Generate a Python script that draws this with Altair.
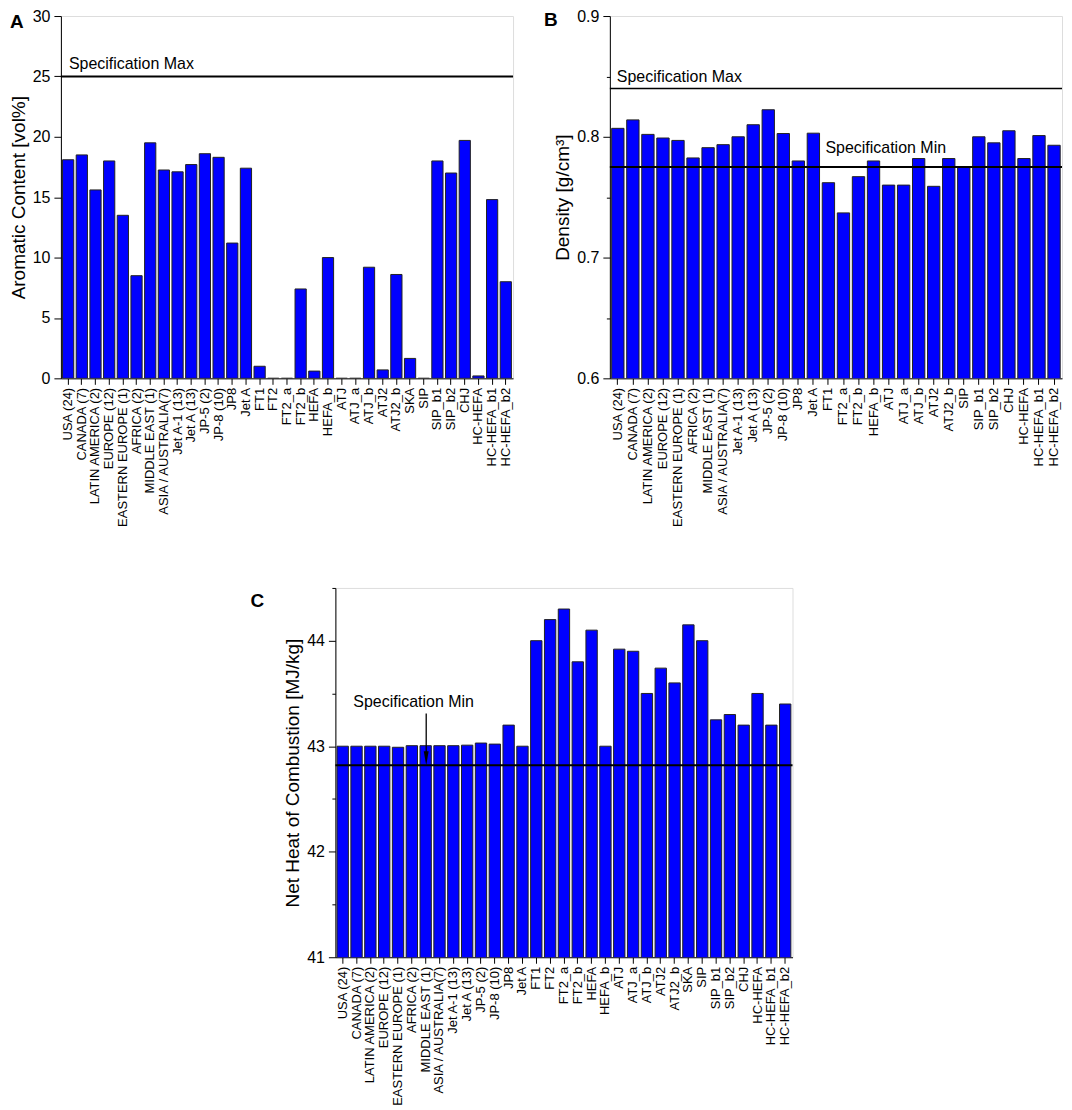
import altair as alt
import pandas as pd

# ---------------- data ----------------
cats_a = ["USA (24)", "CANADA (7)", "LATIN AMERICA (2)", "EUROPE (12)", "EASTERN EUROPE (1)",
          "AFRICA (2)", "MIDDLE EAST (1)", "ASIA / AUSTRALIA(7)", "Jet A-1 (13)", "Jet A (13)",
          "JP-5 (2)", "JP-8 (10)", "JP8", "Jet A", "FT1", "FT2", "FT2_a", "FT2_b", "HEFA", "HEFA_b",
          "ATJ", "ATJ_a", "ATJ_b", "ATJ2", "ATJ2_b", "SKA", "SIP", "SIP_b1", "SIP_b2", "CHJ",
          "HC-HEFA", "HC-HEFA_b1", "HC-HEFA_b2"]
vals_a = [18.1, 18.5, 15.6, 18.0, 13.5, 8.5, 19.5, 17.25, 17.1, 17.7, 18.6, 18.3, 11.2, 17.4,
          1.0, 0.0, 0.0, 7.4, 0.6, 10.0, 0.0, 0.0, 9.2, 0.7, 8.6, 1.65, 0.0, 18.0, 17.0, 19.7,
          0.2, 14.8, 8.0]

cats_b = ["USA (24)", "CANADA (7)", "LATIN AMERICA (2)", "EUROPE (12)", "EASTERN EUROPE (1)",
          "AFRICA (2)", "MIDDLE EAST (1)", "ASIA / AUSTRALIA(7)", "Jet A-1 (13)", "Jet A (13)",
          "JP-5 (2)", "JP-8 (10)", "JP8", "Jet A", "FT1", "FT2_a", "FT2_b", "HEFA_b", "ATJ",
          "ATJ_a", "ATJ_b", "ATJ2", "ATJ2_b", "SIP", "SIP_b1", "SIP_b2", "CHJ", "HC-HEFA",
          "HC-HEFA_b1", "HC-HEFA_b2"]
vals_b = [0.807, 0.814, 0.802, 0.799, 0.797, 0.7825, 0.791, 0.7935, 0.800, 0.810, 0.8224, 0.8027,
          0.780, 0.803, 0.762, 0.737, 0.767, 0.780, 0.760, 0.760, 0.782, 0.759, 0.782, 0.775,
          0.800, 0.795, 0.805, 0.782, 0.801, 0.793]

cats_c = ["USA (24)", "CANADA (7)", "LATIN AMERICA (2)", "EUROPE (12)", "EASTERN EUROPE (1)",
          "AFRICA (2)", "MIDDLE EAST (1)", "ASIA / AUSTRALIA(7)", "Jet A-1 (13)", "Jet A (13)",
          "JP-5 (2)", "JP-8 (10)", "JP8", "Jet A", "FT1", "FT2", "FT2_a", "FT2_b", "HEFA", "HEFA_b",
          "ATJ", "ATJ_a", "ATJ_b", "ATJ2", "ATJ2_b", "SKA", "SIP", "SIP_b1", "SIP_b2", "CHJ",
          "HC-HEFA", "HC-HEFA_b1", "HC-HEFA_b2"]
vals_c = [43.0, 43.0, 43.0, 43.0, 42.99, 43.005, 43.005, 43.005, 43.005, 43.01, 43.03, 43.02,
          43.2, 43.0, 44.0, 44.2, 44.3, 43.8, 44.1, 43.0, 43.92, 43.9, 43.5, 43.74, 43.6, 44.15,
          44.0, 43.25, 43.3, 43.2, 43.5, 43.2, 43.4]

ticks_a = [0, 2.5, 5, 7.5, 10, 12.5, 15, 17.5, 20, 22.5, 25, 27.5, 30]
ticks_b = [0.6, 0.65, 0.7, 0.75, 0.8, 0.85, 0.9]
ticks_c = [41, 41.5, 42, 42.5, 43, 43.5, 44, 44.5]

spec_a_max = 25
spec_b_max = 0.84
spec_b_min = 0.775
spec_c_min = 42.82
arrow_c_top = 43.31

FONT = "Liberation Sans"
BLUE = "#0000FF"
W = 453
H = 363


def bars(cats, vals, domain, ticks, major_test, fmt, ytitle, width, height):
    df = pd.DataFrame({"name": cats, "value": vals})
    return alt.Chart(df).mark_bar(color=BLUE, stroke="#222222", strokeWidth=1, clip=True).encode(
        x=alt.X("name:N", sort=cats,
                scale=alt.Scale(paddingInner=0.18, paddingOuter=0.12),
                axis=alt.Axis(title=None, labelAngle=-90, labelFontSize=13, tickSize=6,
                              labelPadding=3, labelLimit=300, domainColor="black",
                              tickColor="black", labelColor="black", labelFont=FONT)),
        y=alt.Y("value:Q", scale=alt.Scale(domain=domain, nice=False, zero=False),
                axis=alt.Axis(values=ticks, title=ytitle, grid=False,
                              tickSize={"condition": {"test": major_test, "value": 7}, "value": 3.5},
                              labelExpr=f"({major_test}) ? format(datum.value, '{fmt}') : ''",
                              labelFontSize=16, labelPadding=4, labelOverlap=False,
                              titleFontSize=19, titleFontWeight="normal", titlePadding=4,
                              titleColor="black", labelColor="black", domainColor="black",
                              tickColor="black", labelFont=FONT, titleFont=FONT)),
    ).properties(width=width, height=height)


def rule(v, w=2):
    return alt.Chart(pd.DataFrame({"v": [v]})).mark_rule(color="black", strokeWidth=w).encode(
        y=alt.Y("v:Q"))


def label(text, v, px, dy, size=16):
    return alt.Chart(pd.DataFrame({"t": [text], "v": [v]})).mark_text(
        align="left", baseline="alphabetic", dy=dy, fontSize=size, font=FONT,
        color="black").encode(x=alt.value(px), y=alt.Y("v:Q"), text="t:N")


def letter(text, px, py):
    return alt.Chart(pd.DataFrame({"t": [text]})).mark_text(
        align="left", baseline="top", fontSize=19, font=FONT, fontWeight="bold",
        color="black").encode(x=alt.value(px), y=alt.value(py), text="t:N")


# Panel A
pa = alt.layer(
    bars(cats_a, vals_a, [0, 30], ticks_a, "datum.value % 5 === 0", "d",
         "Aromatic Content [vol%]", W, H),
    rule(spec_a_max),
    label("Specification Max", spec_a_max, 8, -7),
    letter("A", -51, -3),
)

# Panel B
pb = alt.layer(
    bars(cats_b, vals_b, [0.6, 0.9], ticks_b,
         "abs(datum.value * 10 - round(datum.value * 10)) < 0.000001", ".1f",
         "Density [g/cm³]", W, H),
    rule(spec_b_max, 1.5),
    rule(spec_b_min, 2),
    label("Specification Max", spec_b_max, 7, -7),
    label("Specification Min", spec_b_min, 216, -14),
    letter("B", -66, -5),
)

# Panel C
arrow_df = pd.DataFrame({"top": [arrow_c_top], "bottom": [spec_c_min + 0.1],
                         "head": [spec_c_min + 0.065]})
arrow = alt.Chart(arrow_df).mark_rule(color="black", strokeWidth=1.3).encode(
    x=alt.value(91), y=alt.Y("top:Q"), y2="bottom:Q")
head = alt.Chart(arrow_df).mark_point(
    shape="M -0.35 -1 L 0.35 -1 L 0 1 Z", filled=True, color="black", size=196,
    opacity=1).encode(x=alt.value(91), y=alt.Y("head:Q"))

pc = alt.layer(
    bars(cats_c, vals_c, [41, 44.5], ticks_c, "datum.value % 1 === 0", "d",
         "Net Heat of Combustion [MJ/kg]", 458, 370),
    rule(spec_c_min),
    arrow, head,
    label("Specification Min", arrow_c_top, 18, -7),
    letter("C", -85, 4),
)

spacer = alt.Chart(pd.DataFrame({"s": [0]})).mark_point(opacity=0).properties(
    width=188, height=H, view=alt.ViewBackground(stroke="transparent"))

top = alt.hconcat(pa, pb, spacing=28)
bottom = alt.hconcat(spacer, pc, spacing=0)
chart = alt.vconcat(top, bottom, spacing=52).properties(
    padding={"left": 0, "top": -2, "right": 0, "bottom": 0}
).configure_view(stroke="black", strokeWidth=1).configure(font=FONT)

chart.save("out.html", embed_options={"renderer": "svg", "actions": False})
